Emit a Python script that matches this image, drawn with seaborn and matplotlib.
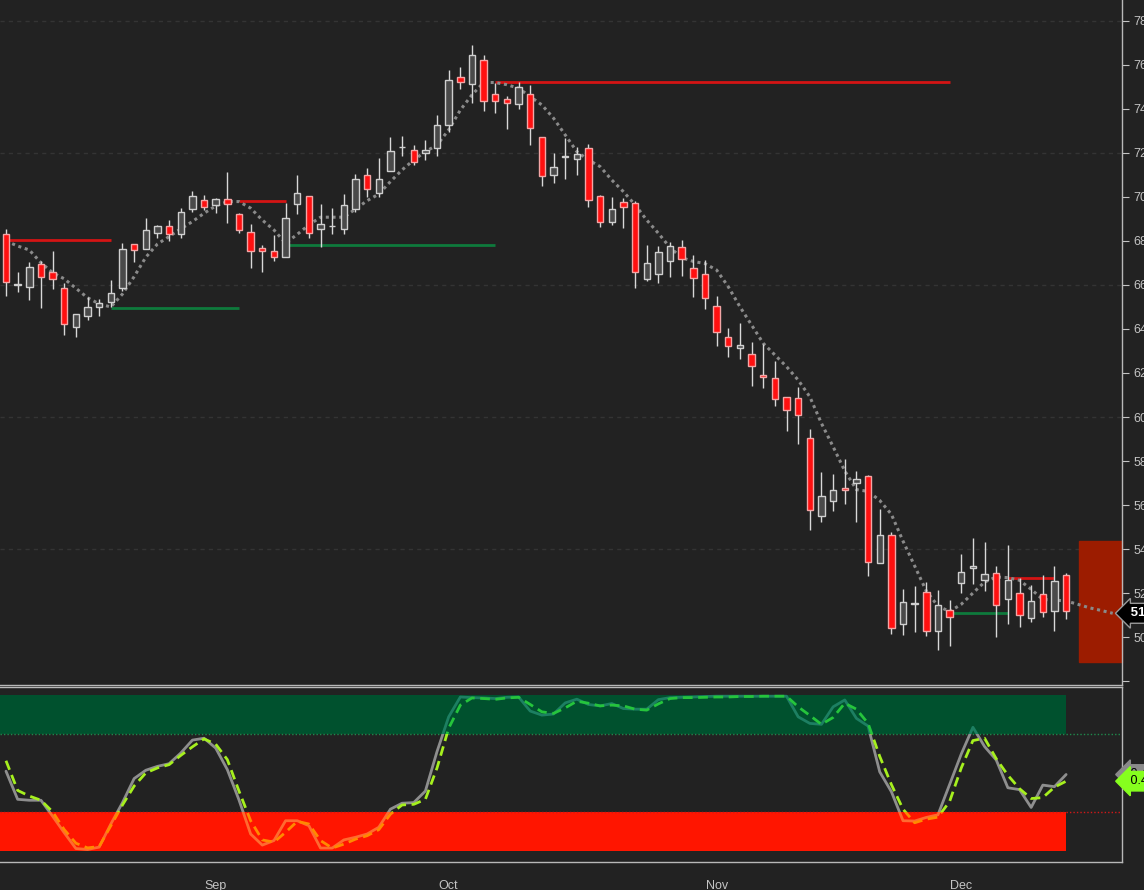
import numpy as np
import pandas as pd
import matplotlib.pyplot as plt
import matplotlib.transforms as mtransforms
from matplotlib.patches import Rectangle
import seaborn as sns

# daily bars, Aug 7 - Dec 13 (Labor Day closed)
dates = pd.bdate_range('2019-08-07', periods=92, freq='C', holidays=['2019-09-02'])

opens = [68.30, 66.00, 65.92, 66.97, 66.61, 65.85, 64.11, 64.60, 64.99, 65.21,
         65.85, 67.85, 67.65, 68.35, 68.70, 68.30, 69.45, 69.86, 69.65, 69.89,
         69.21, 68.42, 67.67, 67.56, 67.29, 69.67, 70.03, 68.56, 68.66, 68.56,
         69.47, 70.99, 70.20, 71.17, 72.25, 72.12, 72.01, 72.21, 73.29, 75.44,
         75.12, 76.21, 74.67, 74.44, 74.21, 74.67, 72.71, 70.99, 71.82, 71.71,
         72.21, 70.06, 68.88, 69.76, 69.71, 66.29, 66.49, 67.08, 67.71, 66.79,
         66.50, 65.03, 63.62, 63.12, 62.85, 61.89, 61.76, 60.90, 60.85, 59.03,
         55.49, 56.20, 56.77, 57.02, 57.33, 53.35, 54.62, 50.58, 51.52, 52.06,
         50.26, 51.23, 52.44, 53.12, 52.59, 52.90, 51.71, 51.99, 50.85, 51.94,
         51.17, 52.81]
highs = [68.53, 66.58, 67.03, 67.10, 67.56, 66.08, 64.67, 65.47, 65.35, 66.23,
         67.92, 67.85, 69.03, 68.72, 68.95, 69.51, 70.27, 70.09, 69.95, 71.12,
         69.25, 68.76, 67.82, 68.26, 69.74, 71.00, 70.05, 69.68, 69.49, 70.14,
         71.05, 71.30, 71.76, 72.71, 72.76, 72.35, 72.59, 73.71, 75.76, 75.92,
         76.91, 76.45, 75.17, 74.59, 75.24, 75.09, 72.72, 72.01, 72.70, 72.26,
         72.41, 70.07, 70.01, 69.95, 69.80, 67.82, 67.77, 67.97, 68.05, 67.36,
         67.14, 65.50, 64.05, 64.26, 63.40, 63.30, 62.53, 60.92, 61.38, 59.44,
         57.50, 57.41, 58.08, 57.53, 57.36, 55.80, 54.76, 52.17, 52.33, 52.49,
         52.12, 51.70, 53.76, 54.49, 54.30, 53.23, 54.18, 52.67, 52.35, 52.82,
         53.23, 52.92]
lows = [65.50, 65.70, 65.32, 64.94, 65.80, 63.73, 63.65, 64.41, 64.59, 65.01,
        65.74, 67.06, 67.65, 68.12, 68.00, 68.15, 69.33, 69.41, 69.29, 68.83,
        68.35, 66.76, 66.60, 67.10, 67.25, 69.23, 68.12, 67.71, 68.30, 68.30,
        69.32, 70.01, 69.98, 71.17, 71.88, 71.47, 71.68, 71.86, 72.97, 74.91,
        74.29, 73.90, 73.83, 73.08, 74.01, 72.36, 70.51, 70.65, 70.83, 71.01,
        69.53, 68.65, 68.73, 68.60, 65.88, 66.20, 66.10, 66.35, 66.42, 65.47,
        64.92, 63.24, 62.74, 62.65, 61.42, 61.33, 60.51, 59.38, 58.79, 54.85,
        55.24, 55.74, 56.05, 55.24, 52.76, 53.35, 50.12, 50.08, 50.24, 50.03,
        49.41, 49.61, 51.99, 52.40, 52.10, 50.01, 50.58, 50.47, 50.70, 50.90,
        50.29, 50.80]
closes = [66.15, 66.02, 66.83, 66.38, 66.26, 64.21, 64.67, 65.00, 65.20, 65.62,
          67.62, 67.59, 68.49, 68.67, 68.30, 69.30, 70.05, 69.56, 69.89, 69.68,
          68.50, 67.55, 67.53, 67.29, 69.03, 70.17, 68.35, 68.76, 68.70, 69.62,
          70.80, 70.35, 70.80, 72.08, 72.29, 71.58, 72.12, 73.26, 75.30, 75.24,
          76.44, 74.35, 74.35, 74.29, 74.99, 73.15, 70.97, 71.35, 71.84, 71.94,
          69.85, 68.85, 69.44, 69.53, 66.58, 66.99, 67.49, 67.76, 67.18, 66.30,
          65.42, 63.85, 63.24, 63.26, 62.33, 61.80, 60.80, 60.30, 60.08, 55.77,
          56.41, 56.68, 56.67, 57.18, 53.40, 54.62, 50.40, 51.58, 51.55, 50.26,
          51.44, 50.90, 52.94, 53.21, 52.85, 51.44, 52.58, 50.99, 51.64, 51.12,
          52.53, 51.17]

# displaced moving average (runs 4 bars past the last candle)
ma = [68.0, 67.77, 67.59, 67.01, 66.56, 66.28, 65.85, 65.42, 65.14, 65.0,
      65.59, 66.38, 67.26, 67.86, 68.2, 68.55, 68.88, 69.26, 69.59, 69.79,
      69.79, 69.49, 68.95, 68.5, 67.9, 68.3, 68.73, 69.08, 69.08, 69.08,
      69.45, 69.83, 70.13, 70.7, 71.23, 71.68, 72.06, 72.36, 73.05, 73.95,
      74.64, 75.2, 75.2, 75.1, 74.94, 74.56, 74.18, 73.58, 72.82, 72.06,
      71.68, 71.38, 70.77, 70.24, 69.64, 68.95, 68.35, 67.7, 67.24, 67.07,
      66.97, 66.68, 65.92, 65.01, 64.18, 63.35, 62.82, 62.29, 61.68, 60.92,
      59.71, 58.65, 57.55, 56.7, 56.62, 56.21, 55.58, 54.36, 53.23, 52.09,
      51.41, 51.16, 51.49, 52.0, 52.5, 52.73, 52.7, 52.58, 52.17, 51.71,
      51.68, 51.64, 51.49, 51.33, 51.21, 51.08]

# support / resistance segments: (price, first bar, last bar)
resist = [(68.05, 0, 9), (69.80, 20, 24), (75.22, 42, 81), (52.70, 86, 90)]
support = [(64.97, 9, 20), (67.83, 24, 42), (51.10, 81, 86)]

# projection box right of the last bar
box_start, box_end = 92.1, 95.8
box_low, box_high = 48.88, 54.38

# stochastic-type oscillator
osc_fast = [0.514, 0.334, 0.328, 0.328, 0.226, 0.120, 0.019, 0.013, 0.028, 0.176,
            0.313, 0.467, 0.520, 0.545, 0.562, 0.630, 0.713, 0.725, 0.662, 0.524,
            0.330, 0.112, 0.041, 0.070, 0.197, 0.197, 0.165, 0.022, 0.022, 0.074,
            0.091, 0.112, 0.155, 0.271, 0.309, 0.313, 0.387, 0.640, 0.862, 0.989,
            0.985, 0.983, 0.979, 0.987, 0.989, 0.899, 0.873, 0.880, 0.951, 0.975,
            0.941, 0.932, 0.947, 0.915, 0.911, 0.911, 0.972, 0.985, 0.987, 0.989,
            0.992, 0.994, 0.994, 0.994, 0.994, 0.994, 0.994, 0.994, 0.862, 0.820,
            0.814, 0.926, 0.970, 0.852, 0.803, 0.510, 0.383, 0.197, 0.195, 0.218,
            0.235, 0.429, 0.624, 0.795, 0.672, 0.586, 0.408, 0.396, 0.282, 0.425,
            0.415, 0.493]
osc_slow = [0.581, 0.391, 0.355, 0.328, 0.254, 0.140, 0.053, 0.023, 0.032, 0.165,
            0.298, 0.419, 0.503, 0.535, 0.556, 0.615, 0.670, 0.721, 0.687, 0.588,
            0.387, 0.197, 0.074, 0.060, 0.123, 0.193, 0.176, 0.070, 0.022, 0.047,
            0.079, 0.101, 0.140, 0.239, 0.298, 0.302, 0.334, 0.535, 0.789, 0.937,
            0.983, 0.979, 0.974, 0.983, 0.987, 0.941, 0.894, 0.884, 0.919, 0.962,
            0.949, 0.932, 0.937, 0.932, 0.911, 0.905, 0.945, 0.979, 0.985, 0.985,
            0.987, 0.989, 0.989, 0.992, 0.992, 0.994, 0.994, 0.994, 0.926, 0.871,
            0.814, 0.858, 0.949, 0.911, 0.820, 0.609, 0.429, 0.271, 0.184, 0.207,
            0.220, 0.320, 0.535, 0.710, 0.725, 0.594, 0.488, 0.402, 0.339, 0.345,
            0.412, 0.450]
upper_level, lower_level = 0.75, 0.25

BG = '#222222'
sns.set_style('dark', {'axes.facecolor': BG, 'figure.facecolor': BG})
plt.rcParams['font.family'] = ['Liberation Sans', 'DejaVu Sans']

opens, highs, lows, closes = map(np.array, (opens, highs, lows, closes))
x = np.arange(len(closes))
xlim = (-0.515, 95.8)

fig = plt.figure(figsize=(11.44, 8.9), dpi=100)
ax = fig.add_axes([0, 0.2303, 0.9808, 0.7697])
ax2 = fig.add_axes([0, 0.0315, 0.9808, 0.1966])

# ---- price panel ----
for lvl in [54, 60, 66, 72, 78]:
    ax.axhline(lvl, color='#343434', lw=1, ls=(0, (3, 3)), zorder=0)

ax.add_patch(Rectangle((box_start, box_low), box_end - box_start, box_high - box_low,
                       color='#9c1c00', zorder=1, clip_on=False))

for p, a, b in resist:
    ax.hlines(p, a, b, color='#d41414', lw=2, zorder=2)
for p, a, b in support:
    ax.hlines(p, a, b, color='#0e7a3c', lw=2, zorder=2)

sns.lineplot(x=np.arange(len(ma)), y=ma, ax=ax, color='#8a8a8a', lw=2.2,
             linestyle=(0, (1, 1.2)), zorder=3)

ax.vlines(x, lows, highs, color='#d8d8d8', lw=1, zorder=4)
up = closes >= opens
dn = ~up
ax.bar(x[up], np.maximum(closes[up] - opens[up], 0.03), bottom=opens[up], width=0.55,
       color='#4a4a4a', edgecolor='#cfcfcf', lw=1, zorder=5)
ax.bar(x[dn], opens[dn] - closes[dn], bottom=closes[dn], width=0.55,
       color='#ff1010', edgecolor='#f3a5a5', lw=1, zorder=5)

ax.set_xlim(*xlim)
ax.set_ylim(47.82, 78.95)
ax.yaxis.tick_right()
yt = np.arange(48, 79, 2)
ax.set_yticks(yt)
ax.set_yticklabels([''] + [f'{v:.2f}' for v in yt[1:]])
ax.tick_params(axis='y', colors='#c4c4c4', labelsize=9, length=5, direction='out', pad=3)
ax.set_xticks([])
ax.set_xlabel('')
ax.set_ylabel('')
for s in ['left', 'top']:
    ax.spines[s].set_visible(False)
for s in ['right', 'bottom']:
    ax.spines[s].set_color('#b8b8b8')
    ax.spines[s].set_linewidth(1)

trans = mtransforms.blended_transform_factory(ax.transAxes, ax.transData)
ax.text(1.004, ma[-1], f' {ma[-1]:.2f}', transform=trans, ha='left', va='center',
        color='white', fontsize=9.5, fontweight='bold', zorder=10, clip_on=False,
        bbox=dict(boxstyle='larrow,pad=0.3', fc='black', ec='#9a9a9a', lw=1))

# ---- oscillator panel ----
last = len(closes) - 1
ax2.fill_between([xlim[0], last], upper_level, 1.0, color='#00512e', lw=0, zorder=0)
ax2.fill_between([xlim[0], last], 0.0, lower_level, color='#ff1500', lw=0, zorder=0)
ax2.axhline(upper_level, color='#1f8a4c', lw=1, ls=(0, (1, 1.5)), zorder=1)
ax2.axhline(lower_level, color='#d01818', lw=1, ls=(0, (1, 1.5)), zorder=1)

zones = [(-1, lower_level), (lower_level, upper_level), (upper_level, 2)]


def zoned_line(vals, colors, ls, lw, z):
    for (lo, hi), col in zip(zones, colors):
        sns.lineplot(x=x, y=vals, ax=ax2, color=col, lw=lw, linestyle=ls, zorder=z)
        clip = Rectangle((xlim[0], lo), xlim[1] - xlim[0], hi - lo, transform=ax2.transData)
        ax2.lines[-1].set_clip_path(clip)


zoned_line(osc_fast, ['#ff6a30', '#8e8e8e', '#1d7f62'], '-', 2, 2)
zoned_line(osc_slow, ['#ff8a00', '#a6f01e', '#25c43c'], (0, (3.5, 2)), 2, 3)

ax2.set_xlim(*xlim)
ax2.set_ylim(-0.067, 1.053)
ax2.set_yticks([])
ax2.set_ylabel('')
months = [i for i in range(1, len(dates)) if dates[i].month != dates[i - 1].month]
ax2.set_xticks(months)
ax2.set_xticklabels([dates[i].strftime('%b') for i in months])
ax2.tick_params(axis='x', colors='#c4c4c4', labelsize=9, length=5, direction='out', pad=8)
ax2.spines['left'].set_visible(False)
for s in ['right', 'bottom', 'top']:
    ax2.spines[s].set_color('#b8b8b8')
    ax2.spines[s].set_linewidth(1)

trans2 = mtransforms.blended_transform_factory(ax2.transAxes, ax2.transData)
ax2.text(1.004, osc_fast[-1], f' {osc_fast[-1]:.2f}', transform=trans2, ha='left',
         va='center', color='black', fontsize=9, zorder=9, clip_on=False,
         bbox=dict(boxstyle='larrow,pad=0.3', fc='#8a8a8a', ec='#8a8a8a'))
ax2.text(1.004, osc_slow[-1], f' {osc_slow[-1]:.2f}', transform=trans2, ha='left',
         va='center', color='black', fontsize=9, zorder=10, clip_on=False,
         bbox=dict(boxstyle='larrow,pad=0.3', fc='#86ff1e', ec='#86ff1e'))

fig.savefig('out.png', dpi=100, facecolor=BG)
